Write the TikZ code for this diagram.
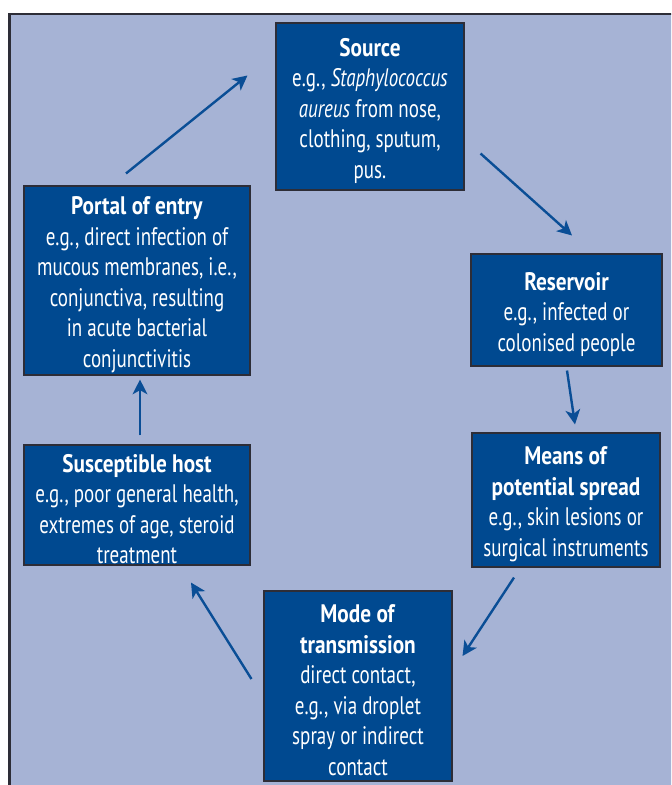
\documentclass[tikz,border=0pt]{standalone}
\usepackage{fontspec}
\setmainfont{PT Sans}[UprightFeatures={FakeStretch=0.75}, ItalicFeatures={FakeStretch=0.75}, BoldFeatures={FakeStretch=0.84}]
\usetikzlibrary{arrows.meta}
\definecolor{panelblue}{RGB}{166,179,213}
\definecolor{boxblue}{RGB}{0,73,144}
\definecolor{arrowblue}{RGB}{10,78,150}
\definecolor{edgegray}{RGB}{45,45,55}

\begin{document}
\begin{tikzpicture}[x=0.75pt, y=-0.75pt,
    stage/.style={draw=edgegray, line width=0.8pt, fill=boxblue, text=white, align=flush center, inner sep=0pt,
        font=\fontsize{19}{22.9}\selectfont, execute at begin node={\rule{0pt}{20pt}}},
    >={Stealth[length=11pt, width=11pt, inset=3pt]},
    link/.style={->, draw=arrowblue, line width=1.8pt}]
    \clip (0,0) rectangle (671,785);
    \fill[white] (0,0) rectangle (671,785);
    \draw[edgegray, line width=1.7pt, fill=panelblue] (9.5,14) rectangle (690,800);

    % the six stages of the chain
    \node[stage, minimum width=141pt, minimum height=125.25pt, text width=135pt] (source) at (370,106.5)
        {\textbf{Source}\\e.g., \textit{Staphylococcus}\\\textit{aureus} from nose,\\clothing, sputum,\\pus.};
    \node[stage, minimum width=143.25pt, minimum height=84pt, text width=137pt] (reservoir) at (566.5,310)
        {\textbf{Reservoir}\\e.g., infected or\\colonised people};
    \node[stage, minimum width=141pt, minimum height=100.5pt, text width=135pt] (means) at (566,500)
        {\textbf{Means of}\\\textbf{potential spread}\\e.g., skin lesions or\\surgical instruments};
    \node[stage, minimum width=141pt, minimum height=142.5pt, text width=135pt] (mode) at (358,686)
        {\textbf{Mode of}\\\textbf{transmission}\\direct contact,\\e.g., via droplet\\spray or indirect\\contact};
    \node[stage, minimum width=169.5pt, minimum height=90pt, text width=163pt] (host) at (137,505)
        {\textbf{Susceptible host}\\e.g., poor general health,\\extremes of age, steroid\\treatment};
    \node[stage, minimum width=169.5pt, minimum height=141.75pt, text width=163pt] (portal) at (137,280.5)
        {\textbf{Portal of entry}\\e.g., direct infection of\\mucous membranes, i.e.,\\conjunctiva, resulting\\in acute bacterial\\conjunctivitis};

    % arrows round the chain
    \draw[link] ([shift={(-11,-12)}]portal.north) -- ([shift={(-28,-31)}]source.west);
    \draw[link] ([shift={(16,47)}]source.east) -- ([shift={(5.5,-18)}]reservoir.north);
    \draw[link] ([shift={(0.5,4)}]reservoir.south) -- ([shift={(9,-8)}]means.north);
    \draw[link] ([shift={(-52,10)}]means.south) -- ([shift={(10,-30)}]mode.east);
    \draw[link] ([shift={(-12,-7)}]mode.west) -- ([shift={(54,17)}]host.south);
    \draw[link] ([shift={(3,-9)}]host.north) -- ([shift={(3,4)}]portal.south);
\end{tikzpicture}
\end{document}
